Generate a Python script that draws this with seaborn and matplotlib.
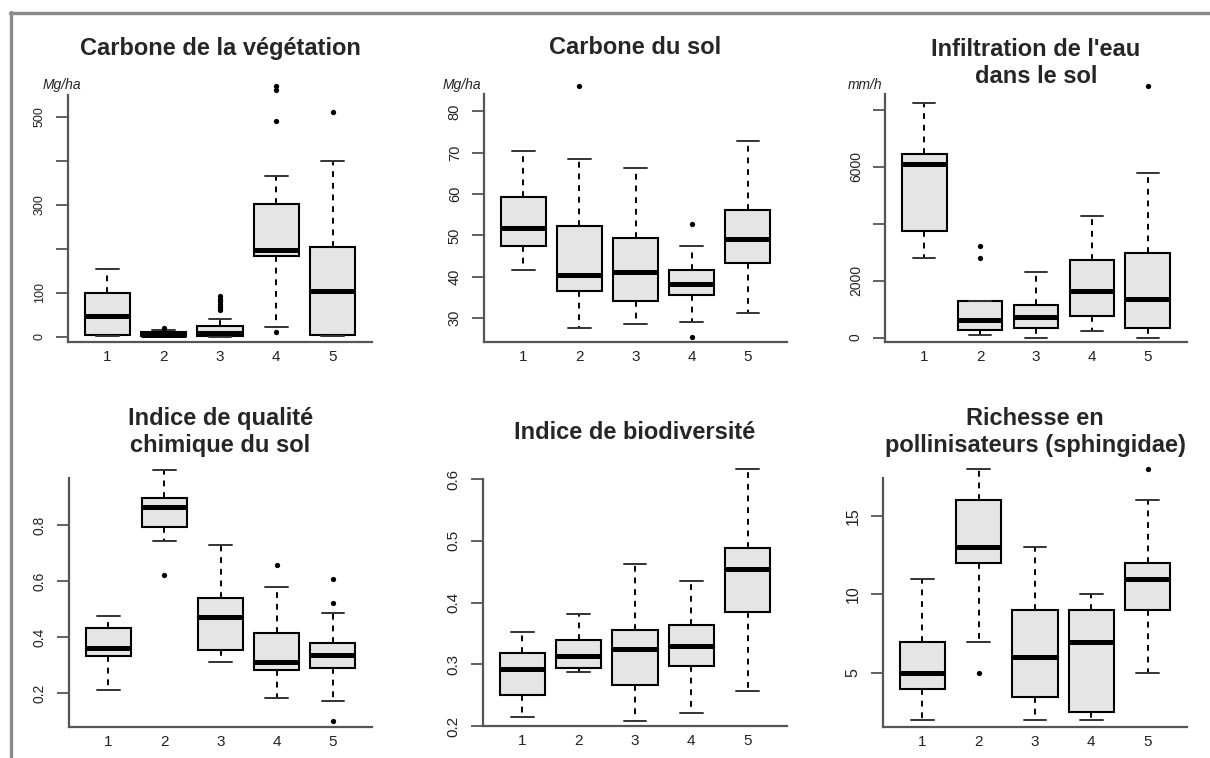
import matplotlib
matplotlib.use("Agg")
import matplotlib.pyplot as plt
import matplotlib.lines as mlines
import pandas as pd
import seaborn as sns

GROUPS = ["1", "2", "3", "4", "5"]

# Five-number summaries, one row per group:
# lower whisker, Q1, median, Q3, upper whisker
VEG_STATS = [
    [1, 5, 47, 100, 153],
    [0, 1, 5, 10, 15],
    [0, 2, 8, 24, 40],
    [23, 183, 198, 301, 364],
    [1, 5, 104, 203, 399],
]
VEG_FLIERS = [[], [20], [60, 65, 70, 75, 80, 86, 92], [10, 489, 561, 570], [511]]

SOILC_STATS = [
    [41.7, 47.4, 51.7, 59.4, 70.5],
    [27.6, 36.5, 40.4, 52.2, 68.4],
    [28.6, 34.0, 41.2, 49.4, 66.2],
    [29.0, 35.5, 38.3, 41.7, 47.4],
    [31.1, 43.2, 49.0, 56.1, 72.9],
]
SOILC_FLIERS = [[], [86.2], [], [52.7, 25.4], []]

INFIL_STATS = [
    [2804, 3742, 6088, 6440, 8235],
    [82, 258, 633, 1279, 1279],
    [0, 340, 727, 1161, 2311],
    [223, 751, 1630, 2721, 4270],
    [0, 340, 1349, 2956, 5795],
]
INFIL_FLIERS = [[], [2804, 3214], [], [], [8845]]

CHEM_STATS = [
    [0.212, 0.331, 0.361, 0.433, 0.474],
    [0.743, 0.794, 0.865, 0.898, 0.999],
    [0.311, 0.353, 0.470, 0.538, 0.731],
    [0.183, 0.283, 0.311, 0.415, 0.579],
    [0.170, 0.289, 0.335, 0.379, 0.486],
]
CHEM_FLIERS = [[], [0.623], [], [0.657], [0.607, 0.523, 0.100]]

BIO_STATS = [
    [0.215, 0.250, 0.292, 0.319, 0.352],
    [0.287, 0.294, 0.314, 0.339, 0.381],
    [0.208, 0.266, 0.324, 0.355, 0.462],
    [0.221, 0.297, 0.330, 0.364, 0.435],
    [0.256, 0.385, 0.454, 0.489, 0.616],
]
BIO_FLIERS = [[], [], [], [], []]

POLL_STATS = [
    [2, 4, 5, 7, 11],
    [7, 12, 13, 16, 18],
    [2, 3.5, 6, 9, 13],
    [2, 2.5, 7, 9, 10],
    [5, 9, 11, 12, 16],
]
POLL_FLIERS = [[], [5], [], [], [18]]

TITLES = [
    "Carbone de la végétation",
    "Carbone du sol",
    "Infiltration de l'eau\ndans le sol",
    "Indice de qualité\nchimique du sol",
    "Indice de biodiversité",
    "Richesse en\npollinisateurs (sphingidae)",
]
UNITS = ["Mg/ha", "Mg/ha", "mm/h", None, None, None]

W, H = 1210, 758
BOX_FILL = "#e5e5e5"
AXIS_GRAY = "#555555"

# layout (pixels): axes box, title centre, unit label position, y range, ticks
PANELS = [
    dict(stats=VEG_STATS, fliers=VEG_FLIERS, box=(68, 95, 372, 342), title_y=48,
         unit_xy=(43, 85), ylim=(-12, 549), ticks=[0, 100, 200, 300, 400, 500],
         labels=["0", "100", "", "300", "", "500"], tsize=9),
    dict(stats=SOILC_STATS, fliers=SOILC_FLIERS, box=(484, 94, 787, 342), title_y=48,
         unit_xy=(443, 85), ylim=(24.2, 84.2), ticks=[30, 40, 50, 60, 70, 80],
         labels=["30", "40", "50", "60", "70", "80"], tsize=10.5),
    dict(stats=INFIL_STATS, fliers=INFIL_FLIERS, box=(885, 94, 1187, 342), title_y=63,
         unit_xy=(848, 85), ylim=(-155, 8553), ticks=[0, 2000, 4000, 6000, 8000],
         labels=["0", "2000", "", "6000", ""], tsize=10),
    dict(stats=CHEM_STATS, fliers=CHEM_FLIERS, box=(69, 478, 372, 727), title_y=432,
         unit_xy=None, ylim=(0.078, 0.969), ticks=[0.2, 0.4, 0.6, 0.8],
         labels=["0.2", "0.4", "0.6", "0.8"], tsize=10),
    dict(stats=BIO_STATS, fliers=BIO_FLIERS, box=(483, 479, 787, 726), title_y=432,
         unit_xy=None, ylim=(0.2, 0.6), ticks=[0.2, 0.3, 0.4, 0.5, 0.6],
         labels=["0.2", "0.3", "0.4", "0.5", "0.6"], tsize=11),
    dict(stats=POLL_STATS, fliers=POLL_FLIERS, box=(883, 478, 1187, 727), title_y=432,
         unit_xy=None, ylim=(1.56, 17.42), ticks=[5, 10, 15],
         labels=["5", "10", "15"], tsize=11.5),
]


def long_frame(per_group):
    rows = []
    for grp, values in zip(GROUPS, per_group):
        for v in values:
            rows.append({"group": grp, "value": v})
    return pd.DataFrame(rows, columns=["group", "value"])


def draw_panel(fig, cfg, title, unit):
    x0, y0, x1, y1 = cfg["box"]
    ax = fig.add_axes([x0 / W, 1 - y1 / H, (x1 - x0) / W, (y1 - y0) / H])

    # five values per group -> the percentiles at 0/25/50/75/100 are exactly the summary
    sns.boxplot(
        data=long_frame(cfg["stats"]), x="group", y="value", order=GROUPS,
        whis=(0, 100), width=0.8, color=BOX_FILL, saturation=1,
        linecolor="black", linewidth=1.5, showfliers=False,
        medianprops={"linewidth": 3.6},
        whiskerprops={"linestyle": (0, (3, 3)), "linewidth": 1.4},
        capprops={"color": "#333333", "linewidth": 1.4},
        ax=ax,
    )
    fl = long_frame(cfg["fliers"])
    if len(fl):
        sns.stripplot(data=fl, x="group", y="value", order=GROUPS, jitter=False,
                      color="black", size=3.8, ax=ax)

    for art in list(ax.lines) + list(ax.patches) + list(ax.collections):
        art.set_clip_on(False)

    ax.set_xlim(-0.7, 4.7)
    ax.set_ylim(*cfg["ylim"])
    ax.set_yticks(cfg["ticks"])
    ax.set_yticklabels(cfg["labels"])
    ax.set_xlabel("")
    ax.set_ylabel("")
    sns.despine(ax=ax)
    for side in ["left", "bottom"]:
        ax.spines[side].set_color(AXIS_GRAY)
        ax.spines[side].set_linewidth(1.6)
    ax.tick_params(axis="x", length=0, pad=6, labelsize=11, labelcolor="#222222")
    ax.tick_params(axis="y", length=9, width=1.3, color=AXIS_GRAY, pad=7,
                   labelsize=cfg["tsize"], labelcolor="#222222", labelrotation=90)
    for lbl in ax.get_yticklabels():
        lbl.set_va("center")

    xc = (x0 + x1) / 2 / W
    fig.text(xc, 1 - cfg["title_y"] / H, title, ha="center", va="center",
             fontsize=17, fontweight="bold", linespacing=1.2)
    if unit:
        ux, uy = cfg["unit_xy"]
        fig.text(ux / W, 1 - uy / H, unit, ha="left", va="center",
                 fontsize=10, fontstyle="italic", color="#222222")


sns.set_style("ticks")
plt.rcParams["font.family"] = ["Liberation Sans", "DejaVu Sans"]

fig = plt.figure(figsize=(W / 100, H / 100), dpi=100)
fig.patch.set_facecolor("white")

for cfg, title, unit in zip(PANELS, TITLES, UNITS):
    draw_panel(fig, cfg, title, unit)

# grey frame along the top and left edge of the picture
frame = dict(color="#8a8a8a", linewidth=2.4, transform=fig.transFigure)
fig.add_artist(mlines.Line2D([10 / W, 1], [1 - 13 / H, 1 - 13 / H], **frame))
fig.add_artist(mlines.Line2D([11.5 / W, 11.5 / W], [0, 1 - 12 / H], **frame))

fig.savefig("out.png", dpi=100)
